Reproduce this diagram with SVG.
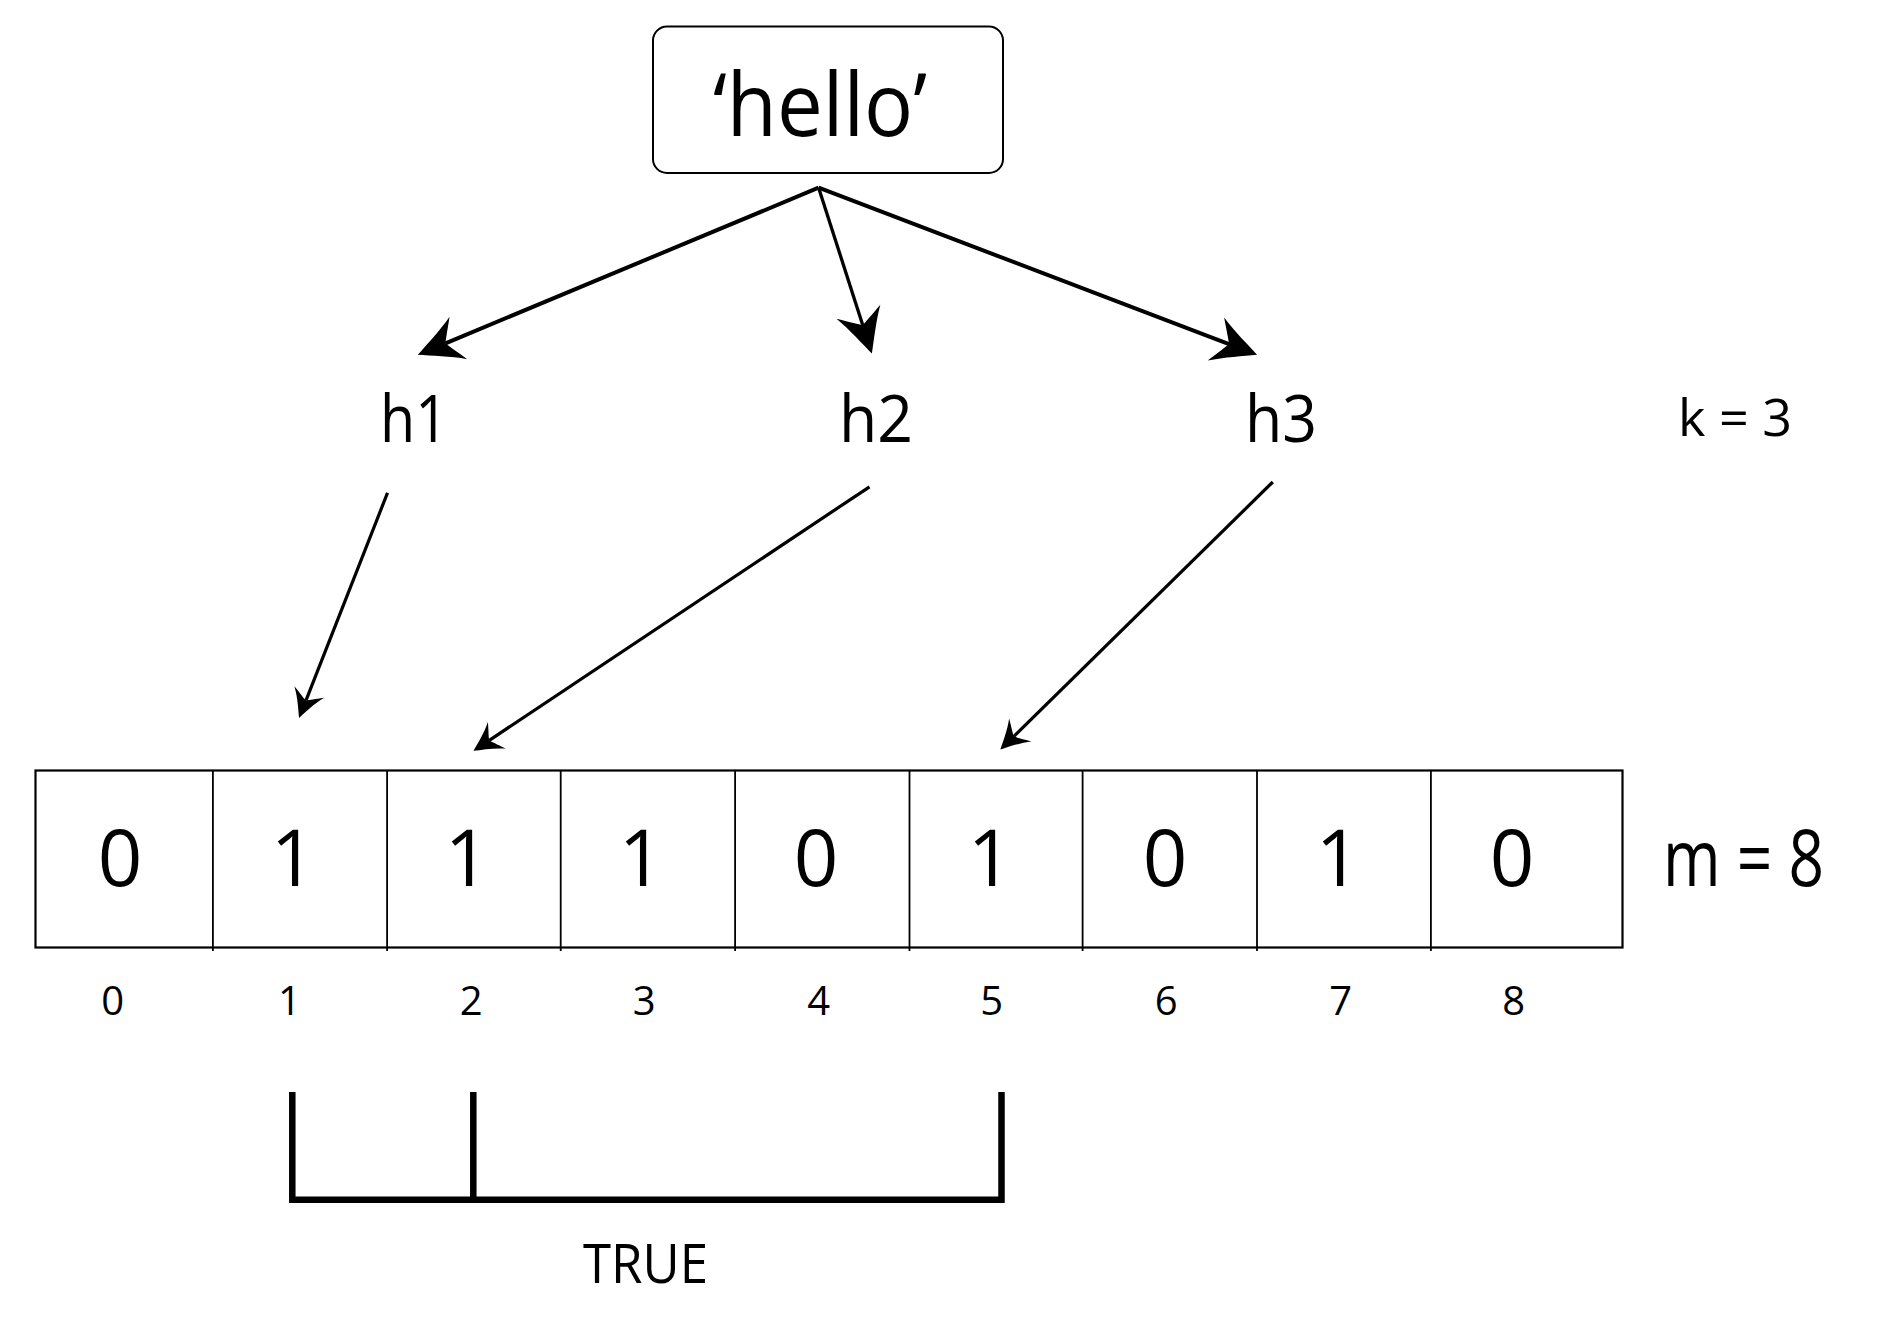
<svg xmlns="http://www.w3.org/2000/svg" width="1899" height="1320" viewBox="0 0 1899 1320">
<style>
text{font-family:"Open Sans","Noto Sans","Liberation Sans",sans-serif;fill:#000;text-anchor:middle}
.big{font-size:78px}
.idx{font-size:40px}
.h{font-size:66px}
.ln{fill:none;stroke:#000;stroke-linecap:butt}
.top{stroke-width:4;marker-end:url(#headL)}
.bot{stroke-width:3.2;marker-end:url(#headS)}
.brk{fill:none;stroke:#000;stroke-width:6.5;stroke-linejoin:miter}
</style>
<defs>
<marker id="headL" markerUnits="userSpaceOnUse" viewBox="-46 -25 48 50" markerWidth="48" markerHeight="50" refX="-30" refY="0" orient="auto" overflow="visible">
<path d="M0 0C-12 -6 -30 -14 -44 -23C-36 -10 -32 -4 -30 0C-32 4 -36 10 -44 23C-30 14 -12 6 0 0Z" fill="#000"/>
</marker>
<marker id="headS" markerUnits="userSpaceOnUse" viewBox="-30 -17 32 34" markerWidth="32" markerHeight="34" refX="-19" refY="0" orient="auto" overflow="visible">
<path d="M0 0C-8 -4 -19 -9 -28 -16C-23 -7 -20 -3 -19 0C-20 3 -23 7 -28 16C-19 9 -8 4 0 0Z" fill="#000"/>
</marker>
</defs>
<rect width="1899" height="1320" fill="#fff"/>
<g id="hello">
<rect x="653" y="26.5" width="350" height="146.5" rx="14" fill="#fff" stroke="#000" stroke-width="2"/>
<text x="820" y="136" font-size="88" textLength="214" lengthAdjust="spacingAndGlyphs">‘hello’</text>
</g>
<g id="h1"><text class="h" x="414" y="442" textLength="68" lengthAdjust="spacingAndGlyphs">h1</text></g>
<g id="h2"><text class="h" x="876" y="442" textLength="74" lengthAdjust="spacingAndGlyphs">h2</text></g>
<g id="h3"><text class="h" x="1281" y="442" textLength="72" lengthAdjust="spacingAndGlyphs">h3</text></g>
<g id="k"><text x="1735" y="436" font-size="52" textLength="114" lengthAdjust="spacingAndGlyphs">k = 3</text></g>
<g id="bits">
<rect x="35.5" y="770.5" width="1587" height="177" fill="#fff" stroke="#000" stroke-width="2.2"/>
<path d="M212.9 770.5V951M387.1 770.5V951M560.7 770.5V951M735.1 770.5V951M909.5 770.5V951M1082.6 770.5V951M1257 770.5V951M1430.9 770.5V951" stroke="#000" stroke-width="1.8"/>
<text class="big" x="120" y="886">0</text>
<text class="big" x="293" y="886">1</text>
<text class="big" x="467" y="886">1</text>
<text class="big" x="641" y="886">1</text>
<text class="big" x="816" y="886">0</text>
<text class="big" x="990" y="886">1</text>
<text class="big" x="1165" y="886">0</text>
<text class="big" x="1338" y="886">1</text>
<text class="big" x="1512" y="886">0</text>
</g>
<g id="m"><text class="big" x="1743.5" y="886" textLength="161" lengthAdjust="spacingAndGlyphs">m = 8</text></g>
<g id="indices">
<text class="idx" x="112.6" y="1015">0</text>
<text class="idx" x="289.4" y="1015">1</text>
<text class="idx" x="471.1" y="1015">2</text>
<text class="idx" x="644.3" y="1015">3</text>
<text class="idx" x="818.6" y="1015">4</text>
<text class="idx" x="991.8" y="1015">5</text>
<text class="idx" x="1166.2" y="1015">6</text>
<text class="idx" x="1340.6" y="1015">7</text>
<text class="idx" x="1513.8" y="1015">8</text>
</g>
<g id="bracket">
<path class="brk" d="M292.3 1092V1199.7H1001.5V1092M473.3 1092V1199.7"/>
<text x="645.5" y="1283" font-size="54" textLength="125" lengthAdjust="spacingAndGlyphs">TRUE</text>
</g>
<g id="connectors">
<path class="ln top" d="M818.6 187.7L445.5 343.3"/>
<path class="ln top" style="stroke-width:3.3" d="M818.6 187.7L862.7 325"/>
<path class="ln top" d="M818.6 187.7L1229 344.1"/>
<path class="ln bot" d="M387.5 492.9L306 700.4"/>
<path class="ln bot" d="M869.5 486.8L489.3 740.3"/>
<path class="ln bot" d="M1272.8 482L1013.9 736.3"/>
</g>
</svg>
